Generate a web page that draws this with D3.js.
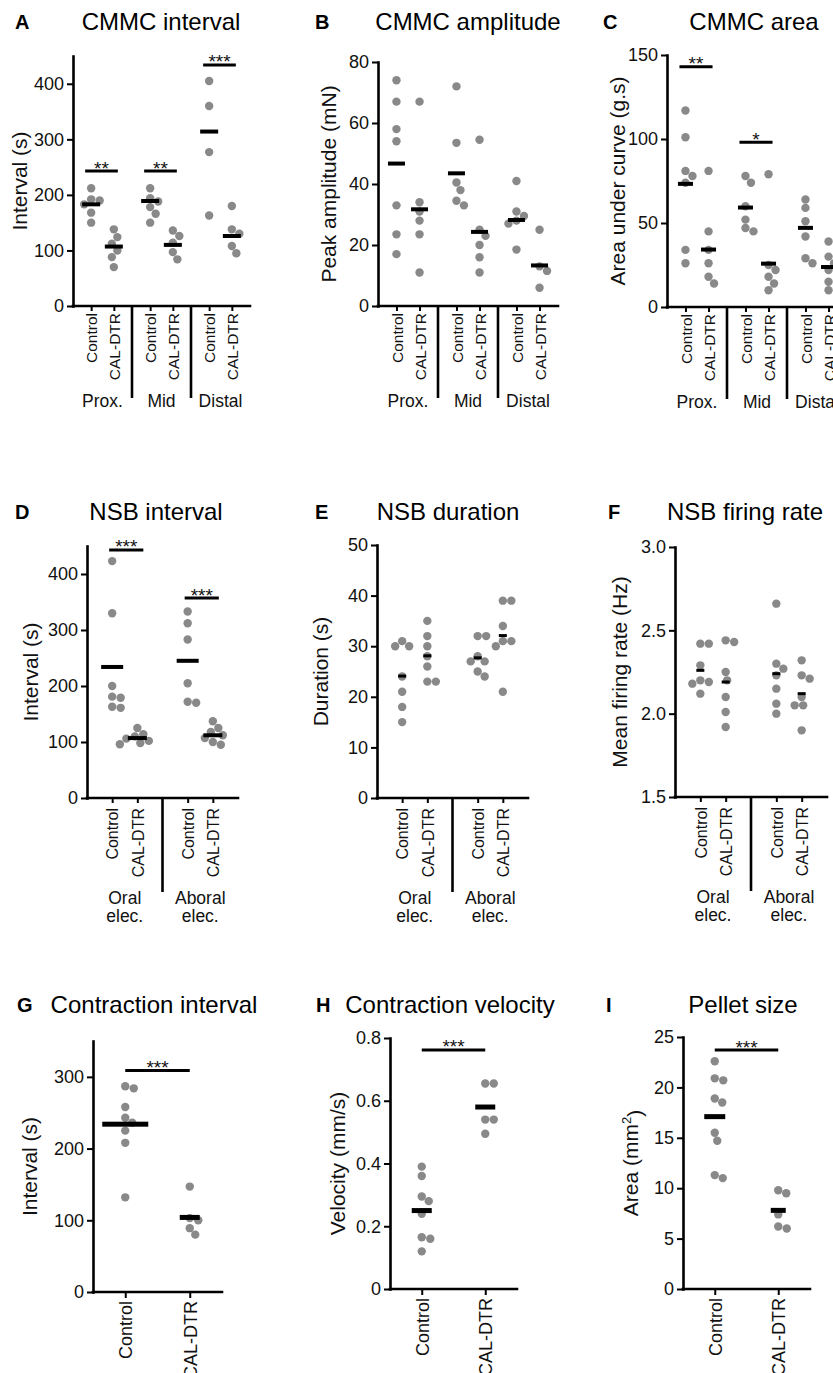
<!DOCTYPE html>
<html><head><meta charset="utf-8">
<script src="https://cdn.jsdelivr.net/npm/d3@7"></script>
<style>
body{margin:0;background:#fff;}
svg{display:block;font-family:"Liberation Sans",Arial,Helvetica,sans-serif;}
</style></head><body>
<svg id="fig" width="833" height="1373"></svg>
<script>
// ---------- DATA ----------
const conditions = ["Control", "CAL-DTR"];
const cmmcSegments = [["Prox."], ["Mid"], ["Distal"]];
const nsbElectrodes = [["Oral", "elec."], ["Aboral", "elec."]];
const singleGroup = [[""]];

// A: CMMC interval (s)
const cmmcIntervalControl = [[212, 192, 190, 183, 168, 150], [212, 194, 188, 178, 166, 150], [405, 360, 277, 163]];
const cmmcIntervalCalDtr = [[138, 124, 112, 100, 88, 70], [136, 126, 114, 97, 84], [180, 138, 130, 108, 95]];
const cmmcIntervalMean = [[183, 107], [189, 110], [314, 126]];
const cmmcIntervalSig = [[243, "**"], [243, "**"], [434, "***"]];
const cmmcIntervalTicks = [0, 100, 200, 300, 400];

// B: CMMC amplitude (mN)
const cmmcAmpControl = [[74, 67, 58, 54, 33, 23.5, 17], [72, 53.5, 40.5, 38, 34.5, 33], [41, 31, 29.5, 28, 27, 18.5]];
const cmmcAmpCalDtr = [[67, 34, 31, 28, 23.5, 11], [54.5, 25, 23, 20, 16, 11], [25, 13, 11.5, 6]];
const cmmcAmpMean = [[46.7, 31.7], [43.5, 24.3], [28.2, 13.3]];
const cmmcAmpSig = [null, null, null];
const cmmcAmpTicks = [0, 20, 40, 60, 80];

// C: CMMC area (g.s)
const cmmcAreaControl = [[117, 101, 81, 78, 74, 34, 26], [78, 74, 60, 52, 47, 45], [64, 59, 51, 42, 29, 26]];
const cmmcAreaCalDtr = [[81, 45, 34, 26, 18, 14], [79, 25, 22, 18, 14, 10], [39, 30, 26, 22, 15, 10]];
const cmmcAreaMean = [[73.3, 34.2], [59.2, 25.8], [47.1, 23.8]];
const cmmcAreaSig = [[143, "**"], [98, "*"], null];
const cmmcAreaTicks = [0, 50, 100, 150];

// D: NSB interval (s)
const nsbIntervalControl = [[423, 330, 200, 181, 179, 163, 161], [333, 312, 283, 205, 172, 170]];
const nsbIntervalCalDtr = [[125, 114, 110, 106, 102, 98, 96], [137, 125, 118, 112, 107, 100, 95]];
const nsbIntervalMean = [[234, 107], [245, 112]];
const nsbIntervalSig = [[443, "***"], [357, "***"]];
const nsbIntervalTicks = [0, 100, 200, 300, 400];

// E: NSB duration (s)
const nsbDurationControl = [[31, 30, 30, 24, 21, 18, 15], [32, 32, 28, 27, 27, 25, 24]];
const nsbDurationCalDtr = [[35, 32, 30, 28, 26, 23, 23], [39, 39, 34, 31, 31, 30, 21]];
const nsbDurationMean = [[24.1, 28.1], [27.7, 32.1]];
const nsbDurationSig = [null, null];
const nsbDurationTicks = [0, 10, 20, 30, 40, 50];

// F: NSB firing rate (Hz)
const nsbRateControl = [[2.42, 2.42, 2.29, 2.20, 2.19, 2.18, 2.12], [2.66, 2.30, 2.27, 2.23, 2.15, 2.06, 2.00]];
const nsbRateCalDtr = [[2.44, 2.43, 2.25, 2.20, 2.10, 2.01, 1.92], [2.32, 2.23, 2.21, 2.10, 2.05, 2.05, 1.90]];
const nsbRateMean = [[2.26, 2.19], [2.24, 2.12]];
const nsbRateSig = [null, null];
const nsbRateTicks = [1.5, 2.0, 2.5, 3.0];

// G: Contraction interval (s)
const contrIntervalControl = [[287, 284, 258, 243, 236, 225, 208, 132]];
const contrIntervalCalDtr = [[147, 103, 100, 89, 80]];
const contrIntervalMean = [[234, 104]];
const contrIntervalSig = [[309, "***"]];
const contrIntervalTicks = [0, 100, 200, 300];

// H: Contraction velocity (mm/s)
const contrVelocityControl = [[0.39, 0.36, 0.295, 0.28, 0.24, 0.165, 0.16, 0.12]];
const contrVelocityCalDtr = [[0.655, 0.655, 0.54, 0.54, 0.495]];
const contrVelocityMean = [[0.25, 0.58]];
const contrVelocitySig = [[0.762, "***"]];
const contrVelocityTicks = [0, 0.2, 0.4, 0.6, 0.8];

// I: Pellet size (mm2)
const pelletControl = [[22.6, 20.9, 20.7, 18.9, 18.5, 15.5, 14.7, 11.3, 11.0]];
const pelletCalDtr = [[9.8, 9.5, 7.4, 6.2, 6.0]];
const pelletMean = [[17.1, 7.8]];
const pelletSig = [[23.7, "***"]];
const pelletTicks = [0, 5, 10, 15, 20, 25];

// ---------- LAYOUT ----------
const fmtInt = d => String(d);
const fmt1 = d3.format(".1f");
const fmtVel = d => d === 0 ? "0" : fmt1(d);

const row1 = {titleY: 30, xFont: 15.5, xOff: 7, xTick: 5, groupOff: 101, sepLen: 92};
const row2 = {titleY: 520, xFont: 16, xOff: 10, xTick: 5, groupOff: 106, sepLen: 94};
const row3 = {titleY: 1013, xFont: 18, xOff: 9, xTick: 6, groupOff: 0, sepLen: 0};

const panels = [
  {L: "A", letterX: 15, title: "CMMC interval", titleX: 161, yLabel: ["Interval (s)"], row: row1,
   groups: cmmcSegments, ctrl: cmmcIntervalControl, cal: cmmcIntervalCalDtr, mean: cmmcIntervalMean, sig: cmmcIntervalSig,
   ticks: cmmcIntervalTicks, fmt: fmtInt, domain: [0, 450], x0: 73, x1: 250, top: 56, bottom: 306,
   pad: 0.8, yOff: 46, meanW: [18, 18], meanH: 4, sigPad: [6, 4]},
  {L: "B", letterX: 315, title: "CMMC amplitude", titleX: 468, yLabel: ["Peak amplitude (mN)"], row: row1,
   groups: cmmcSegments, ctrl: cmmcAmpControl, cal: cmmcAmpCalDtr, mean: cmmcAmpMean, sig: cmmcAmpSig,
   ticks: cmmcAmpTicks, fmt: fmtInt, domain: [0, 80], x0: 378, x1: 558, top: 62, bottom: 306,
   pad: 0.8, yOff: 42, meanW: [17, 17], meanH: 4, sigPad: [6, 4]},
  {L: "C", letterX: 603, title: "CMMC area", titleX: 754, yLabel: ["Area under curve (g.s)"], row: row1,
   groups: cmmcSegments, ctrl: cmmcAreaControl, cal: cmmcAreaCalDtr, mean: cmmcAreaMean, sig: cmmcAreaSig,
   ticks: cmmcAreaTicks, fmt: fmtInt, domain: [0, 150], x0: 667, x1: 847, top: 55, bottom: 307,
   pad: 0.8, yOff: 42, meanW: [15, 15], meanH: 4, sigPad: [6, 4]},
  {L: "D", letterX: 15, title: "NSB interval", titleX: 156, yLabel: ["Interval (s)"], row: row2,
   groups: nsbElectrodes, ctrl: nsbIntervalControl, cal: nsbIntervalCalDtr, mean: nsbIntervalMean, sig: nsbIntervalSig,
   ticks: nsbIntervalTicks, fmt: fmtInt, domain: [0, 450], x0: 87, x1: 238, top: 546, bottom: 798,
   pad: 1.0, yOff: 49, meanW: [22, 19], meanH: 4, sigPad: [3, 6]},
  {L: "E", letterX: 315, title: "NSB duration", titleX: 448, yLabel: ["Duration (s)"], row: row2,
   groups: nsbElectrodes, ctrl: nsbDurationControl, cal: nsbDurationCalDtr, mean: nsbDurationMean, sig: nsbDurationSig,
   ticks: nsbDurationTicks, fmt: fmtInt, domain: [0, 50], x0: 377, x1: 528, top: 545, bottom: 798,
   pad: 1.0, yOff: 49, meanW: [8, 8], meanH: 3, sigPad: [0, 0]},
  {L: "F", letterX: 608, title: "NSB firing rate", titleX: 745, yLabel: ["Mean firing rate (Hz)"], row: row2,
   groups: nsbElectrodes, ctrl: nsbRateControl, cal: nsbRateCalDtr, mean: nsbRateMean, sig: nsbRateSig,
   ticks: nsbRateTicks, fmt: fmt1, domain: [1.5, 3.0], x0: 675, x1: 827, top: 547, bottom: 797,
   pad: 1.0, yOff: 48, meanW: [8, 8], meanH: 3, sigPad: [0, 0]},
  {L: "G", letterX: 17, title: "Contraction interval", titleX: 154, yLabel: ["Interval (s)"], row: row3,
   groups: singleGroup, ctrl: contrIntervalControl, cal: contrIntervalCalDtr, mean: contrIntervalMean, sig: contrIntervalSig,
   ticks: contrIntervalTicks, fmt: fmtInt, domain: [0, 350], x0: 93, x1: 222, top: 1041, bottom: 1292,
   pad: 0.5, yOff: 56, meanW: [46, 20], meanH: 5, sigPad: [0, 0]},
  {L: "H", letterX: 316, title: "Contraction velocity", titleX: 450, yLabel: ["Velocity (mm/s)"], row: row3,
   groups: singleGroup, ctrl: contrVelocityControl, cal: contrVelocityCalDtr, mean: contrVelocityMean, sig: contrVelocitySig,
   ticks: contrVelocityTicks, fmt: fmtVel, domain: [0, 0.8], x0: 390, x1: 517, top: 1038, bottom: 1289,
   pad: 0.5, yOff: 45, meanW: [20, 20], meanH: 5, sigPad: [0, 0]},
  {L: "I", letterX: 606, title: "Pellet size", titleX: 743, yLabel: ["Area (mm", "2", ")"], row: row3,
   groups: singleGroup, ctrl: pelletControl, cal: pelletCalDtr, mean: pelletMean, sig: pelletSig,
   ticks: pelletTicks, fmt: fmtInt, domain: [0, 25], x0: 683, x1: 810, top: 1037, bottom: 1289,
   pad: 0.5, yOff: 45, meanW: [21, 15], meanH: 5, sigPad: [0, 0]}
];

const svg = d3.select("#fig");
const DOT_R = 4.2, DOT_COL = "#898989", AXW = 2.6;

function swarm(values, y, cx, r) {
  const pts = values.map(v => ({v, y: y(v)})).sort((a, b) => a.y - b.y);
  const placed = [];
  pts.forEach(p => {
    let best = null;
    for (let k = 0; k < 400 && best === null; k++) {
      const cands = k === 0 ? [0] : [k * 0.5, -k * 0.5];
      for (const dx of cands) {
        if (placed.every(q => Math.hypot(q.dx - dx, q.y - p.y) >= 2 * r)) { best = dx; break; }
      }
    }
    p.dx = best; placed.push(p);
  });
  return placed.map(p => ({x: cx + p.dx, y: p.y}));
}

panels.forEach(P => {
  const R = P.row;
  const g = svg.append("g");
  const y = d3.scaleLinear().domain(P.domain).range([P.bottom, P.top]);
  const xg = d3.scaleBand().domain(d3.range(P.groups.length)).range([P.x0, P.x1]);
  const xc = d3.scalePoint().domain(conditions).range([0, xg.bandwidth()]).padding(P.pad);
  const px = (i, c) => xg(i) + xc(c);

  // panel letter + title
  g.append("text").attr("x", P.letterX).attr("y", R.titleY - 1)
    .attr("font-size", 20).attr("font-weight", "bold").text(P.L);
  g.append("text").attr("x", P.titleX).attr("y", R.titleY).attr("text-anchor", "middle")
    .attr("font-size", 24).text(P.title);

  // y axis
  const ya = g.append("g").attr("transform", `translate(${P.x0},0)`)
    .call(d3.axisLeft(y).tickValues(P.ticks).tickFormat(P.fmt).tickSize(6).tickPadding(3).tickSizeOuter(0));
  ya.attr("font-family", null);
  ya.select(".domain").attr("stroke-width", AXW).attr("stroke-linecap", "square");
  ya.selectAll(".tick line").attr("stroke-width", 2);
  ya.selectAll(".tick text").attr("font-size", 18).attr("fill", "#111");

  // y title
  const yt = g.append("text")
    .attr("transform", `translate(${P.x0 - P.yOff},${(P.top + P.bottom) / 2}) rotate(-90)`)
    .attr("text-anchor", "middle").attr("font-size", 21).attr("fill", "#111");
  yt.append("tspan").text(P.yLabel[0]);
  if (P.yLabel.length > 1) {
    yt.append("tspan").attr("font-size", 13).attr("dy", "-0.55em").text(P.yLabel[1]);
    yt.append("tspan").attr("dy", "0.55em").text(P.yLabel[2]);
  }

  // x axis (ordinal ticks)
  const flat = [];
  P.groups.forEach((gn, i) => conditions.forEach(c => flat.push({key: i + "|" + c, x: px(i, c)})));
  const xs = d3.scaleOrdinal().domain(flat.map(d => d.key)).range(flat.map(d => d.x));
  const xa = g.append("g").attr("transform", `translate(0,${P.bottom})`)
    .call(d3.axisBottom(xs).tickFormat(k => k.split("|")[1]).tickSize(R.xTick).tickSizeOuter(0));
  xa.attr("font-family", null);
  xa.select(".domain").remove();
  xa.selectAll(".tick line").attr("stroke-width", 2);
  xa.selectAll(".tick text").attr("font-size", R.xFont).attr("fill", "#111")
    .attr("x", -R.xOff).attr("y", 0).attr("dy", "0.36em")
    .attr("transform", "rotate(-90)").style("text-anchor", "end");
  g.append("line").attr("x1", P.x0).attr("x2", P.x1).attr("y1", P.bottom).attr("y2", P.bottom)
    .attr("stroke", "#000").attr("stroke-width", AXW).attr("stroke-linecap", "square");

  // group separators + labels
  P.groups.forEach((gn, i) => {
    if (i > 0) {
      g.append("line").attr("x1", xg(i)).attr("x2", xg(i)).attr("y1", P.bottom).attr("y2", P.bottom + R.sepLen)
        .attr("stroke", "#000").attr("stroke-width", AXW);
    }
    if (gn[0] !== "") {
      const t = g.append("text").attr("x", xg(i) + xg.bandwidth() / 2).attr("y", P.bottom + R.groupOff)
        .attr("text-anchor", "middle").attr("font-size", 17.5).attr("fill", "#111");
      gn.forEach((line, j) => t.append("tspan").attr("x", xg(i) + xg.bandwidth() / 2).attr("dy", j === 0 ? 0 : "1.05em").text(line));
    }
  });

  // dots, means, significance
  P.groups.forEach((gn, i) => {
    [P.ctrl[i], P.cal[i]].forEach((vals, ci) => {
      const pts = swarm(vals, y, px(i, conditions[ci]), DOT_R);
      g.selectAll(null).data(pts).enter().append("circle")
        .attr("cx", d => d.x).attr("cy", d => d.y).attr("r", DOT_R).attr("fill", DOT_COL);
    });
    P.mean[i].forEach((m, ci) => {
      const w = P.meanW[ci];
      g.append("rect").attr("x", px(i, conditions[ci]) - w / 2).attr("y", y(m) - P.meanH / 2)
        .attr("width", w).attr("height", P.meanH).attr("fill", "#000");
    });
    const s = P.sig[i];
    if (s) {
      const xa0 = px(i, "Control") - P.sigPad[0], xa1 = px(i, "CAL-DTR") + P.sigPad[1];
      g.append("line").attr("x1", xa0).attr("x2", xa1).attr("y1", y(s[0])).attr("y2", y(s[0]))
        .attr("stroke", "#000").attr("stroke-width", 3);
      g.append("text").attr("x", (xa0 + xa1) / 2).attr("y", y(s[0]) + 3.5).attr("text-anchor", "middle")
        .attr("font-size", 19).attr("fill", "#111").text(s[1]);
    }
  });
});
</script>
</body></html>
